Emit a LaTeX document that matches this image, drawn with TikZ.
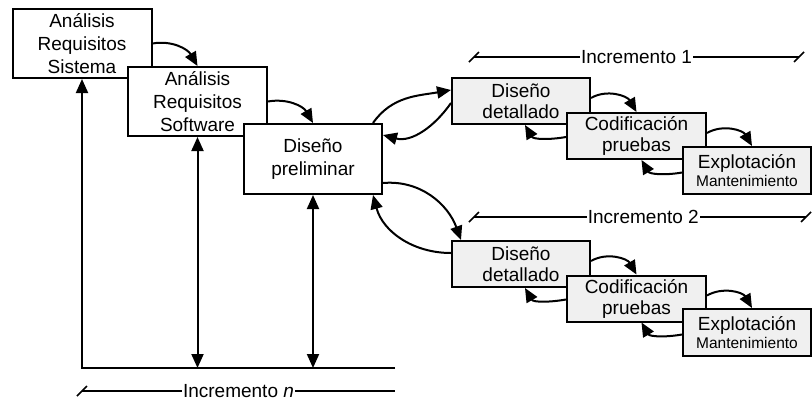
\documentclass[tikz,border=0pt]{standalone}
\usepackage{fontspec}
\setmainfont{Liberation Sans}
\usepackage{tikz}
\usetikzlibrary{arrows.meta,calc,positioning}
\definecolor{boxgray}{gray}{0.94}
\tikzset{
  etapa/.style={draw,line width=2pt,fill=white,inner sep=0pt,align=center,
    minimum width=139pt,minimum height=69pt,font=\fontsize{19}{23}\selectfont},
  etapagris/.style={etapa,fill=boxgray,minimum height=46pt,font=\fontsize{19}{21}\selectfont},
  flecha/.style={line width=2pt,-{Triangle[length=14pt,width=12pt]}},
  flechas/.style={line width=2pt,{Triangle[length=14pt,width=12pt]}-{Triangle[length=14pt,width=12pt]}},
  linea/.style={line width=1.5pt},
  incr/.style={fill=white,inner sep=1pt,font=\fontsize{19}{23}\selectfont}
}
\newcommand{\mant}{{\fontsize{15.5}{17}\selectfont Mantenimiento}}

\begin{document}
\begin{tikzpicture}[x=1pt,y=1pt]
  \fill[white] (0,0) rectangle (812,-400);
  \useasboundingbox (0,0) rectangle (812,-400);

  \node[etapa] (sis) at (82,-43.5) {Análisis\\Requisitos\\Sistema};
  \node[etapa] (sw) at (197.5,-101.5) {Análisis\\Requisitos\\Software};
  \node[etapa,minimum width=138pt,minimum height=70pt] (pre) at (313,-159) {Diseño\\preliminar};

  \node[etapagris,minimum width=138pt] (det1) at (521,-101) {Diseño\\detallado};
  \node[etapagris] (cod1) at (636.5,-136) {Codificación\\pruebas};
  \node[etapagris,minimum width=128pt,minimum height=47pt] (exp1) at (747,-170.5) {Explotación\\[-3pt]\mant};

  \node[etapagris,minimum width=138pt] (det2) at (521,-264) {Diseño\\detallado};
  \node[etapagris] (cod2) at (636.5,-298.5) {Codificación\\pruebas};
  \node[etapagris,minimum width=128pt,minimum height=47pt] (exp2) at (747,-332.5) {Explotación\\[-3pt]\mant};

  \draw[flecha] (sis.east) to[out=10,in=120] (sw.north);
  \draw[flecha] (sw.east) to[out=10,in=120] (pre.north);
  \draw[flecha] ([xshift=-10pt]pre.north east) to[out=55,in=190] ([yshift=11pt]det1.west);
  \draw[flecha] ([yshift=-2pt]det1.west) to[out=235,in=-15] ([yshift=24pt]pre.east);
  \draw[flecha] ([yshift=-24pt]pre.east) to[out=5,in=110] ([xshift=10pt]det2.north west);
  \draw[flecha] ([yshift=11pt]det2.west) to[out=180,in=-75] ([xshift=-10pt]pre.south east);

  \draw[flecha] ([yshift=3pt]det1.east) to[out=30,in=120] (cod1.north);
  \draw[flecha] ([yshift=-1pt]cod1.west) to[out=190,in=-60] ([xshift=4pt]det1.south);
  \draw[flecha] ([yshift=3pt]cod1.east) to[out=30,in=120] ([xshift=5pt]exp1.north);
  \draw[flecha] ([yshift=-2pt]exp1.west) to[out=190,in=-60] ([xshift=5pt]cod1.south);

  \draw[flecha] ([yshift=3pt]det2.east) to[out=30,in=120] (cod2.north);
  \draw[flecha] ([yshift=-1pt]cod2.west) to[out=190,in=-60] ([xshift=4pt]det2.south);
  \draw[flecha] ([yshift=3pt]cod2.east) to[out=30,in=120] ([xshift=5pt]exp2.north);
  \draw[flecha] ([yshift=-2pt]exp2.west) to[out=190,in=-60] ([xshift=5pt]cod2.south);

  \coordinate (bl) at (82,-368);
  \coordinate (br) at (395,-368);
  \draw[flecha] (br) -- (bl) -- (sis.south);
  \draw[flechas] (sw.south) -- (sw.south |- bl);
  \draw[flechas] (pre.south) -- (pre.south |- bl);

  \coordinate (i1a) at (474,-57);
  \coordinate (i1b) at (799,-57);
  \draw[linea] (i1a) -- (i1b) node[incr,pos=0.5] {Incremento 1};
  \draw[linea] ($(i1a)+(-5,-5)$) -- ($(i1a)+(5,5)$);
  \draw[linea] ($(i1b)+(-5,-5)$) -- ($(i1b)+(5,5)$);

  \coordinate (i2a) at (474,-217);
  \coordinate (i2b) at (806,-217);
  \draw[linea] (i2a) -- (i2b) node[incr,pos=0.51] {Incremento 2};
  \draw[linea] ($(i2a)+(-5,-5)$) -- ($(i2a)+(5,5)$);
  \draw[linea] ($(i2b)+(-5,-5)$) -- ($(i2b)+(5,5)$);

  \coordinate (ina) at (82,-391);
  \coordinate (inb) at (395,-391);
  \draw[linea] (ina) -- (inb) node[incr,pos=0.5] {Incremento \textit{n}};
  \draw[linea] ($(ina)+(-5,-5)$) -- ($(ina)+(5,5)$);
\end{tikzpicture}
\end{document}
